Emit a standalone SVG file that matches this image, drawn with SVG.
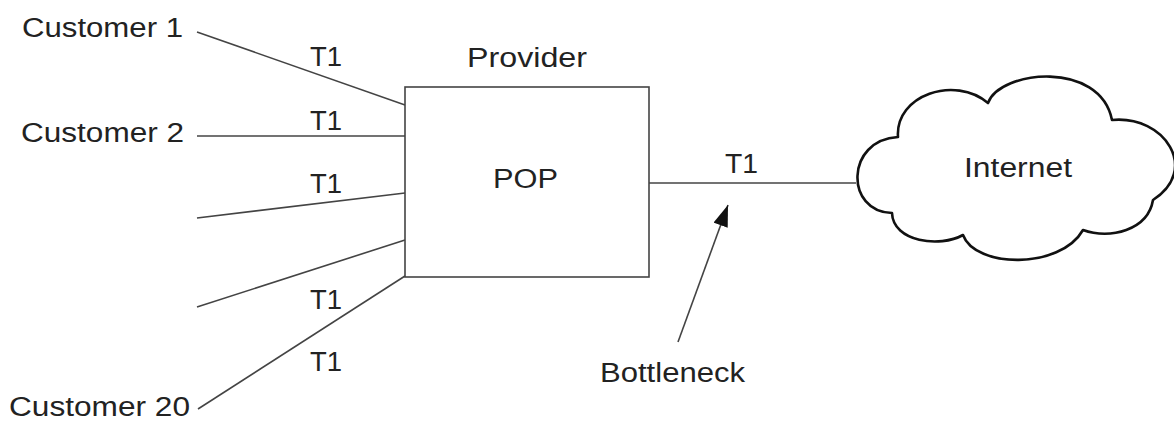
<svg xmlns="http://www.w3.org/2000/svg" width="1174" height="421" viewBox="0 0 1174 421">
<defs>
<style>
.lbl{font-family:"Liberation Sans",Arial,sans-serif;font-size:27px;fill:#222}
.ln{stroke:#444;stroke-width:1.6;fill:none}
</style>
<marker id="arr" viewBox="0 0 10 10" refX="9" refY="5" markerWidth="10" markerHeight="10" markerUnits="userSpaceOnUse" orient="auto">
<path d="M0,0 L10,5 L0,10 Z" fill="#111"/>
</marker>
<marker id="arrbig" viewBox="0 0 20 14" refX="20" refY="7" markerWidth="22" markerHeight="15" markerUnits="userSpaceOnUse" orient="auto">
<path d="M0,0 L20,7 L0,14 Z" fill="#111"/>
</marker>
</defs>
<rect width="1174" height="421" fill="#fff"/>
<g id="connectors">
<line class="ln" x1="197" y1="32" x2="405" y2="105"/>
<line class="ln" x1="197" y1="136" x2="405" y2="136"/>
<line class="ln" x1="197" y1="218" x2="405" y2="193"/>
<line class="ln" x1="197" y1="307" x2="405" y2="240"/>
<line class="ln" x1="198" y1="409" x2="405" y2="276"/>
<line class="ln" x1="649" y1="183" x2="856" y2="183"/>
<line class="ln" x1="678" y1="342" x2="728" y2="205" marker-end="url(#arrbig)"/>
<text class="lbl" x="310" y="66" textLength="32" lengthAdjust="spacingAndGlyphs">T1</text>
<text class="lbl" x="310" y="130" textLength="32" lengthAdjust="spacingAndGlyphs">T1</text>
<text class="lbl" x="310" y="193" textLength="32" lengthAdjust="spacingAndGlyphs">T1</text>
<text class="lbl" x="310" y="309" textLength="32" lengthAdjust="spacingAndGlyphs">T1</text>
<text class="lbl" x="310" y="371" textLength="32" lengthAdjust="spacingAndGlyphs">T1</text>
<text class="lbl" x="725" y="173" textLength="33" lengthAdjust="spacingAndGlyphs">T1</text>
<text class="lbl" x="600" y="382" textLength="145" lengthAdjust="spacingAndGlyphs">Bottleneck</text>
</g>
<g id="customer1"><text class="lbl" x="22" y="37" textLength="161" lengthAdjust="spacingAndGlyphs">Customer 1</text></g>
<g id="customer2"><text class="lbl" x="21" y="142" textLength="163" lengthAdjust="spacingAndGlyphs">Customer 2</text></g>
<g id="customer20"><text class="lbl" x="9" y="416" textLength="181" lengthAdjust="spacingAndGlyphs">Customer 20</text></g>
<g id="pop">
<text class="lbl" x="467" y="67" textLength="120" lengthAdjust="spacingAndGlyphs">Provider</text>
<rect x="405" y="87" width="244" height="190" fill="#fff" stroke="#444" stroke-width="1.6"/>
<text class="lbl" x="493" y="188" textLength="65" lengthAdjust="spacingAndGlyphs">POP</text>
</g>
<g id="internet">
<path d="M898,137 C895,95 955,75 988,103 C1000,70 1100,60 1112,120 C1165,115 1200,170 1153,200 C1148,230 1110,240 1083,230 C1060,270 975,268 963,235 C940,248 893,242 892,213 C845,212 845,140 898,137 Z" fill="#fff" stroke="#111" stroke-width="2.6" stroke-linejoin="round"/>
<text class="lbl" x="964" y="177" textLength="108" lengthAdjust="spacingAndGlyphs">Internet</text>
</g>
</svg>
